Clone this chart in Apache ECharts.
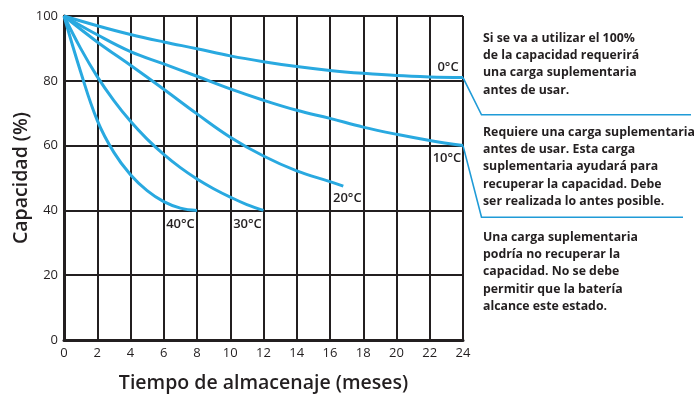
<!DOCTYPE html>
<html>
<head>
<meta charset="utf-8">
<script src="https://cdn.jsdelivr.net/npm/echarts@6/dist/echarts.min.js"></script>
<style>
  html, body { margin: 0; padding: 0; background: #ffffff; }
  #chart { width: 699px; height: 394px; }
</style>
</head>
<body>
<div id="chart"></div>
<script>
// Storage time (months) and remaining capacity (%) for each storage temperature
const months0 = [0, 2, 4, 6, 8, 10, 12, 14, 16, 18, 20, 22, 24];
const cap0    = [100, 97, 94.3, 92, 89.9, 87.7, 85.9, 84.4, 83.2, 82.3, 81.6, 81.2, 81];

const months10 = [0, 2, 4, 6, 8, 10, 12, 14, 16, 18, 20, 22, 24];
const cap10    = [100, 94.2, 89, 85.2, 81.4, 77.5, 74, 70.9, 68.4, 65.7, 63.5, 61.6, 60];

const months20 = [0, 2, 4, 6, 8, 10, 12, 14, 16, 16.8];
const cap20    = [100, 92, 84.8, 77.4, 69.8, 62.6, 56.8, 52.2, 48.9, 47.5];

const months30 = [0, 1, 2, 3, 4, 5, 6, 7, 8, 9, 10, 11, 12];
const cap30    = [100, 90, 81.3, 73.9, 67.5, 62, 57.3, 53.2, 49.7, 46.7, 44.1, 41.8, 40];

const months40 = [0, 1, 2, 3, 4, 5, 6, 7, 8];
const cap40    = [100, 82.8, 67.8, 57.9, 51, 46.1, 42.7, 40.7, 40];

const seriesNames = ['0°C', '10°C', '20°C', '30°C', '40°C'];

const xTicks = { min: 0, max: 24, step: 2 };
const yTicks = { min: 0, max: 100, step: 20 };

const axisTitleX = 'Tiempo de almacenaje (meses)';
const axisTitleY = 'Capacidad (%)';

const noteFull = ['Si se va a utilizar el 100%', 'de la capacidad requerirá', 'una carga suplementaria', 'antes de usar.'];
const noteCharge = ['Requiere una carga suplementaria', 'antes de usar. Esta carga', 'suplementaria ayudará para', 'recuperar la capacidad. Debe', 'ser realizada lo antes posible.'];
const noteLost = ['Una carga suplementaria', 'podría no recuperar la', 'capacidad. No se debe', 'permitir que la batería', 'alcance este estado.'];

const INK = '#231f20';
const BLUE = '#29a9e0';
const CALLOUT = '#1f9bd7';
const FONT = '"Open Sans", "Noto Sans", sans-serif';

// where each temperature tag sits relative to the curve's last point
const tagOffsets = [[-15, -10], [-16, 12.5], [4, 12], [-16, 14], [-16.5, 14]];

function buildSeries(name, xs, ys, tagOffset) {
  const data = xs.map((x, i) => {
    const item = { value: [x, ys[i]] };
    if (i === xs.length - 1) {
      item.label = {
        show: true,
        position: 'inside',
        offset: tagOffset,
        formatter: name,
        color: INK,
        fontFamily: FONT,
        fontSize: 13,
        fontWeight: 600
      };
    }
    return item;
  });
  return {
    name: name,
    type: 'line',
    data: data,
    smooth: 0.4,
    symbol: 'circle',
    symbolSize: 0.01,
    showSymbol: true,
    showAllSymbol: true,
    lineStyle: { color: BLUE, width: 3 },
    itemStyle: { color: BLUE },
    label: { show: false },
    emphasis: { disabled: true },
    z: 5
  };
}

const allX = [months0, months10, months20, months30, months40];
const allY = [cap0, cap10, cap20, cap30, cap40];

const chart = echarts.init(document.getElementById('chart'), null, { renderer: 'canvas' });

chart.setOption({
  animation: false,
  backgroundColor: '#ffffff',
  grid: { left: 64, right: 236, top: 16, bottom: 54, show: false, outerBoundsMode: 'none', containLabel: false },
  xAxis: {
    type: 'value',
    min: xTicks.min, max: xTicks.max, interval: xTicks.step,
    name: axisTitleX,
    nameLocation: 'middle',
    nameGap: 33,
    nameTextStyle: { color: INK, fontFamily: FONT, fontSize: 19.5, fontWeight: 600 },
    axisLine: { show: true, lineStyle: { color: INK, width: 3 } },
    axisTick: { show: false },
    axisLabel: { color: INK, fontFamily: FONT, fontSize: 13, margin: 7 },
    splitLine: { show: true, lineStyle: { color: INK, width: 2 } }
  },
  yAxis: {
    type: 'value',
    min: yTicks.min, max: yTicks.max, interval: yTicks.step,
    name: axisTitleY,
    nameLocation: 'middle',
    nameMoveOverlap: false,
    nameGap: 33,
    nameTextStyle: { color: INK, fontFamily: FONT, fontSize: 19.5, fontWeight: 600 },
    axisLine: { show: true, lineStyle: { color: INK, width: 3 } },
    axisTick: { show: false },
    axisLabel: { color: INK, fontFamily: FONT, fontSize: 13, margin: 6 },
    splitLine: { show: true, lineStyle: { color: INK, width: 2 } }
  },
  series: seriesNames.map((n, i) => buildSeries(n, allX[i], allY[i], tagOffsets[i]))
});

// right-hand frame edge (the axis only draws bottom/left)
const topRight = chart.convertToPixel({ gridIndex: 0 }, [xTicks.max, yTicks.max]);
const bottomRight = chart.convertToPixel({ gridIndex: 0 }, [xTicks.max, yTicks.min]);

// callout leaders start at the 0°C and 10°C curve ends
const end0 = chart.convertToPixel({ gridIndex: 0 }, [months0[months0.length - 1], cap0[cap0.length - 1]]);
const end10 = chart.convertToPixel({ gridIndex: 0 }, [months10[months10.length - 1], cap10[cap10.length - 1]]);

function noteBlock(lines, x, y) {
  return {
    type: 'text',
    x: x, y: y,
    z: 20,
    style: {
      text: lines.join('\n'),
      fill: INK,
      font: '700 12.3px ' + FONT,
      lineHeight: 17.3,
      textAlign: 'left',
      textVerticalAlign: 'top'
    }
  };
}

chart.setOption({
  graphic: [
    {
      type: 'line', z: 4,
      shape: { x1: topRight[0], y1: topRight[1], x2: bottomRight[0], y2: bottomRight[1] },
      style: { stroke: INK, lineWidth: 2 }
    },
    {
      type: 'polyline', z: 6,
      shape: { points: [[end0[0], end0[1]], [481.5, 114.8], [691, 114.8]] },
      style: { stroke: CALLOUT, lineWidth: 1.6, fill: null }
    },
    {
      type: 'polyline', z: 6,
      shape: { points: [[end10[0], end10[1]], [481.5, 217.3], [683, 217.3]] },
      style: { stroke: CALLOUT, lineWidth: 1.6, fill: null }
    },
    noteBlock(noteFull, 483, 29.5),
    noteBlock(noteCharge, 483, 123.5),
    noteBlock(noteLost, 483, 228.5)
  ]
});
</script>
</body>
</html>
